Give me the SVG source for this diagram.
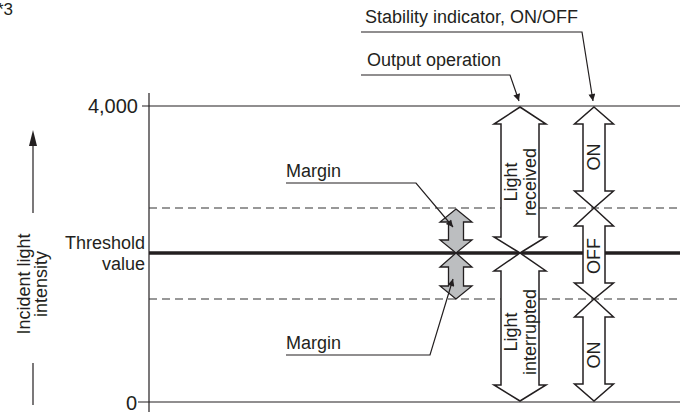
<svg xmlns="http://www.w3.org/2000/svg" width="696" height="412" viewBox="0 0 696 412">
<defs>
<style>
text{font-family:"Liberation Sans",Arial,sans-serif;fill:#231f20;font-size:18px}
.num{font-size:20px}
.ln{stroke:#231f20;stroke-width:1.2;fill:none}
.dash{stroke:#333;stroke-width:1.2;stroke-dasharray:8 5;fill:none}
.big{fill:#fff;stroke:#231f20;stroke-width:1.5;stroke-linejoin:miter}
.mar{fill:#bcbec0;stroke:#231f20;stroke-width:1.3}
.lead{stroke:#231f20;stroke-width:1.2;fill:none;marker-end:url(#ah)}
</style>
<marker id="ah" viewBox="0 0 10 10" refX="10" refY="5" markerWidth="9" markerHeight="7" markerUnits="userSpaceOnUse" orient="auto">
<path d="M0,0 L10,5 L0,10 z" fill="#231f20"/>
</marker>
</defs>
<rect width="696" height="412" fill="#fff"/>
<text x="-3" y="15" style="font-size:17px">*3</text>
<g id="axes">
<line class="ln" x1="149" y1="93" x2="149" y2="412"/>
<line class="ln" x1="142" y1="106" x2="680" y2="106"/>
<line class="ln" x1="138" y1="402" x2="680" y2="402"/>
<line class="dash" x1="149" y1="208" x2="680" y2="208"/>
<line class="dash" x1="149" y1="299" x2="680" y2="299"/>
<line x1="149" y1="253" x2="680" y2="253" stroke="#231f20" stroke-width="3.5"/>
<text class="num" x="138" y="113" text-anchor="end">4,000</text>
<text class="num" x="137" y="410" text-anchor="end">0</text>
<text x="145" y="249" text-anchor="end">Threshold</text>
<text x="145" y="270" text-anchor="end">value</text>
</g>
<g id="axis-label">
<line class="ln" x1="33" y1="144" x2="33" y2="213"/>
<path d="M33,130 L37,146 L29,146 z" fill="#231f20"/>
<line class="ln" x1="33" y1="363" x2="33" y2="405"/>
<text transform="translate(30,284) rotate(-90)" text-anchor="middle">Incident light</text>
<text transform="translate(47,284) rotate(-90)" text-anchor="middle">intensity</text>
</g>
<g id="margin-upper">
<path class="mar" d="M456,209 L472,222 L463.5,222 L463.5,240 L472,240 L456,253 L440,240 L448.5,240 L448.5,222 L440,222 z"/>
</g>
<g id="margin-lower">
<path class="mar" d="M456,253 L472,267 L463.5,267 L463.5,286 L472,286 L456,299 L440,286 L448.5,286 L448.5,267 L440,267 z"/>
</g>
<g id="light-received">
<path class="big" d="M520,107 L546,124 L539,124 L539,237 L546,237 L520,253 L494,237 L501,237 L501,124 L494,124 z"/>
<text transform="translate(517,182) rotate(-90)" text-anchor="middle">Light</text>
<text transform="translate(536,182) rotate(-90)" text-anchor="middle">received</text>
</g>
<g id="light-interrupted">
<path class="big" d="M520,253 L546,271 L539,271 L539,385 L546,385 L520,401 L494,385 L501,385 L501,271 L494,271 z"/>
<text transform="translate(517,332) rotate(-90)" text-anchor="middle">Light</text>
<text transform="translate(536,332) rotate(-90)" text-anchor="middle">interrupted</text>
</g>
<g id="on-upper">
<path class="big" d="M594,107 L613.5,124 L605,124 L605,191 L613.5,191 L594,208 L574.5,191 L583,191 L583,124 L574.5,124 z"/>
<text transform="translate(600,157) rotate(-90)" text-anchor="middle">ON</text>
</g>
<g id="off">
<path class="big" d="M594,208 L613.5,226 L605,226 L605,283 L613.5,283 L594,299 L574.5,283 L583,283 L583,226 L574.5,226 z"/>
<text transform="translate(600,256) rotate(-90)" text-anchor="middle">OFF</text>
</g>
<g id="on-lower">
<path class="big" d="M594,299 L613.5,317 L605,317 L605,384 L613.5,384 L594,401 L574.5,384 L583,384 L583,317 L574.5,317 z"/>
<text transform="translate(600,355) rotate(-90)" text-anchor="middle">ON</text>
</g>
<g id="labels">
<text x="365" y="23">Stability indicator, ON/OFF</text>
<text x="367" y="66">Output operation</text>
<text x="286" y="177">Margin</text>
<text x="286" y="349">Margin</text>
</g>
<g id="connectors">
<polyline class="lead" points="361,32 582,32 593,101"/>
<polyline class="lead" points="361,75 510,75 519,101"/>
<polyline class="lead" points="286,183 416,183 453,227"/>
<polyline class="lead" points="286,355 430,355 453,279"/>
</g>
</svg>
